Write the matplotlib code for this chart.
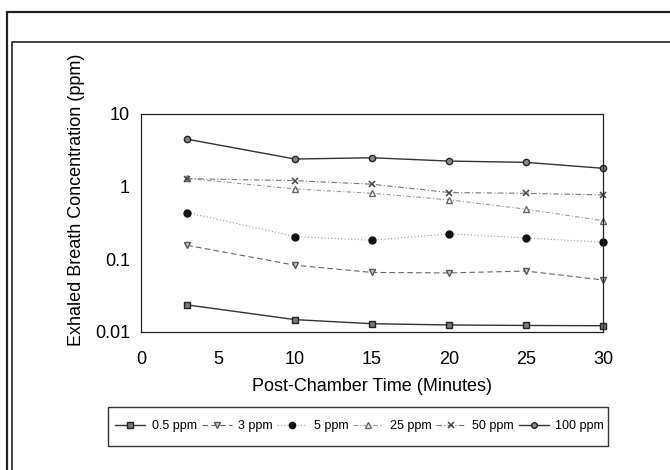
import matplotlib
matplotlib.use('agg')
import matplotlib.pyplot as plt
from matplotlib.patches import Rectangle
import numpy as np

plt.rcParams['font.family'] = ['Liberation Sans', 'DejaVu Sans']

# data
time_min = [3, 10, 15, 20, 25, 30]
labels = ["0.5 ppm", "3 ppm", "5 ppm", "25 ppm", "50 ppm", "100 ppm"]
conc_05 = [0.0236, 0.0148, 0.0130, 0.0125, 0.0123, 0.0122]
conc_3 = [0.156, 0.083, 0.066, 0.065, 0.069, 0.052]
conc_5 = [0.44, 0.206, 0.183, 0.224, 0.197, 0.172]
conc_25 = [1.30, 0.93, 0.81, 0.66, 0.49, 0.34]
conc_50 = [1.29, 1.21, 1.08, 0.83, 0.81, 0.77]
conc_100 = [4.5, 2.4, 2.5, 2.25, 2.16, 1.79]
xticks = [0, 5, 10, 15, 20, 25, 30]
yticks = [0.01, 0.1, 1, 10]
ytick_labels = ["0.01", "0.1", "1", "10"]

W, H = 670, 470
fig = plt.figure(figsize=(W / 100, H / 100), dpi=100)

# frames around the chart (run off the right / bottom edge like the scan)
fig.patches.append(Rectangle((7 / W, -0.1), 1.2, 1 - 12 / H + 0.1, transform=fig.transFigure,
                             fill=False, lw=1.6, ec='#222222'))
fig.patches.append(Rectangle((12 / W, -0.1), 1.2, 1 - 42 / H + 0.1, transform=fig.transFigure,
                             fill=False, lw=1.2, ec='#222222'))

ax = fig.add_axes([141 / W, 1 - 332 / H, (603 - 141) / W, (332 - 114) / H])

styles = [
    dict(ls='-', marker='s', mfc='#777777', mec='#222222', ms=4.5, color='#333333', lw=1.0),
    dict(ls=(0, (5, 3)), marker='v', mfc='#cccccc', mec='#555555', ms=4.5, color='#666666', lw=0.8),
    dict(ls=(0, (1, 2)), marker='o', mfc='#111111', mec='#111111', ms=5, color='#999999', lw=0.8),
    dict(ls=(0, (4, 2, 1, 2)), marker='^', mfc='white', mec='#666666', ms=4.5, color='#999999', lw=0.8),
    dict(ls=(0, (5, 2, 1, 2)), marker='x', mfc='#444444', mec='#444444', ms=4.5, color='#777777', lw=0.8, mew=1.1),
    dict(ls='-', marker='o', mfc='#888888', mec='#222222', ms=4.5, color='#333333', lw=1.0),
]
series = [conc_05, conc_3, conc_5, conc_25, conc_50, conc_100]

handles = []
for vals, lab, st in zip(series, labels, styles):
    h, = ax.plot(time_min, vals, label=lab, clip_on=False, **st)
    handles.append(h)

ax.set_yscale('log')
ax.set_xlim(0, 30)
ax.set_ylim(0.01, 10)
ax.set_xticks(xticks)
ax.set_xticklabels([str(t) for t in xticks])
ax.set_yticks(yticks)
ax.set_yticklabels(ytick_labels)
ax.minorticks_off()
ax.tick_params(length=0, labelsize=13, pad=8)
ax.tick_params(axis='x', pad=14)
for sp in ax.spines.values():
    sp.set_linewidth(0.9)
    sp.set_color('#222222')

ax.set_xlabel("Post-Chamber Time (Minutes)", fontsize=13, labelpad=7)
fig.text(77 / W, 1 - 200 / H, "Exhaled Breath Concentration (ppm)", rotation=90,
         fontsize=13, ha='center', va='center')

# legend box
fig.patches.append(Rectangle((108 / W, 1 - 446 / H), 500 / W, 39 / H, transform=fig.transFigure,
                             fill=False, lw=1.0, ec='#333333'))
fig.legend(handles=handles, labels=labels, loc='center left', ncol=6,
           bbox_to_anchor=(104 / W, 1 - 426.5 / H), frameon=False, fontsize=9,
           handlelength=2.4, handletextpad=0.5, columnspacing=0.4, markerscale=0.9)

fig.savefig("out.png", dpi=100)
